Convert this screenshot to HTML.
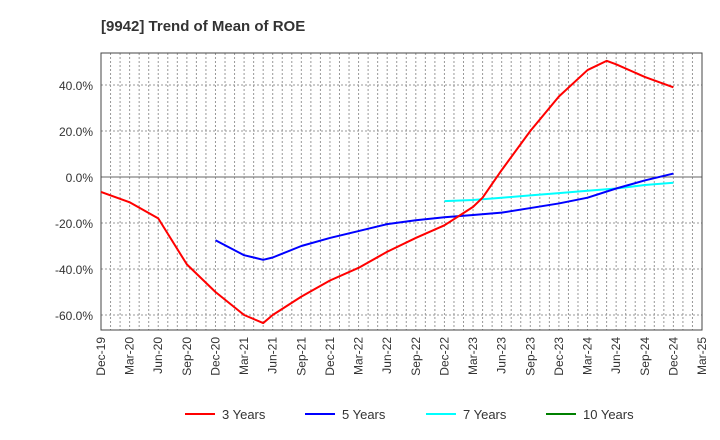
<!DOCTYPE html>
<html><head><meta charset="utf-8"><style>body{margin:0;background:#fff}svg{display:block;font-family:"Liberation Sans",sans-serif}</style></head>
<body>
<svg id="c" width="720" height="440"></svg>
<script>
const tickLabels=["Dec-19","Mar-20","Jun-20","Sep-20","Dec-20","Mar-21","Jun-21","Sep-21","Dec-21","Mar-22","Jun-22","Sep-22","Dec-22","Mar-23","Jun-23","Sep-23","Dec-23","Mar-24","Jun-24","Sep-24","Dec-24","Mar-25"];
const yTicks=[40,20,0,-20,-40,-60];
const m3=[0,3,6,9,12,15,17,18,21,24,27,30,33,36,39,40,42,45,48,51,53,54,57,60];
const v3=[-6.5,-11,-18,-38,-50,-60,-63.5,-60,-52,-45,-39.5,-32.5,-26.5,-21,-13,-9,3,20,35,46.5,50.5,49,43.5,39];
const m5=[12,15,17,18,21,24,27,30,33,36,39,42,45,48,51,54,57,60];
const v5=[-27.5,-34,-36,-35,-30,-26.5,-23.5,-20.5,-18.8,-17.5,-16.5,-15.5,-13.5,-11.5,-9,-5,-1.5,1.5];
const m7=[36,39,42,45,48,51,54,57,60];
const v7=[-10.5,-10,-9,-8,-7,-6,-5,-3.5,-2.5];
const L=101,R=702,T=53,B=330;
const X=m=>L+m*(R-L)/63;
const Y=v=>177-v*2.3;
const svg=document.getElementById('c');
const NS='http://www.w3.org/2000/svg';
function mk(t,a,p){const e=document.createElementNS(NS,t);for(const k in a)e.setAttribute(k,a[k]);(p||svg).appendChild(e);return e;}
let e=mk('text',{x:101,y:31,'font-size':15,'font-weight':'bold',fill:'#333'});e.textContent='[9942]  Trend of Mean of ROE';


for(let m=1;m<63;m++){const l=mk('line',{x1:X(m),x2:X(m),y1:T,y2:B,stroke:'#999','stroke-dasharray':'2,2','stroke-width':1});

}
yTicks.forEach(v=>{if(v===0)return;const l=mk('line',{x1:L,x2:R,y1:Y(v),y2:Y(v),stroke:'#999','stroke-dasharray':'2,2'});

});
e=mk('line',{x1:L,x2:R,y1:Y(0),y2:Y(0),stroke:'#666','stroke-width':1});


e=mk('rect',{x:L,y:T,width:R-L,height:B-T,fill:'none',stroke:'#444'});


yTicks.forEach(v=>{const t=mk('text',{x:L-8,y:Y(v)+5,'text-anchor':'end','font-size':12,fill:'#333'});t.textContent=v.toFixed(1)+'%';

});
tickLabels.forEach((s,i)=>{const x=X(i*3);const t=mk('text',{x:0,y:0,transform:`translate(${x+4},337) rotate(-90)`,'text-anchor':'end','font-size':12,fill:'#333'});t.textContent=s;

});
function line(ms,vs,c,n){const p=mk('polyline',{points:ms.map((m,i)=>X(m)+','+Y(vs[i])).join(' '),fill:'none',stroke:c,'stroke-width':2,'stroke-linejoin':'round'});

}
line(m7,v7,'#00ffff','series-7-years');
line(m5,v5,'#0000ff','series-5-years');
line(m3,v3,'#ff0000','series-3-years');
const leg=[['3 Years','#ff0000',185],['5 Years','#0000ff',305],['7 Years','#00ffff',426],['10 Years','#008000',546]];
leg.forEach(([s,c,x])=>{const g=mk('g',{});


mk('line',{x1:x,x2:x+30,y1:414,y2:414,stroke:c,'stroke-width':2},g);
const t=mk('text',{x:x+37,y:419,'font-size':13,fill:'#333'},g);t.textContent=s;});
</script>
</body></html>
